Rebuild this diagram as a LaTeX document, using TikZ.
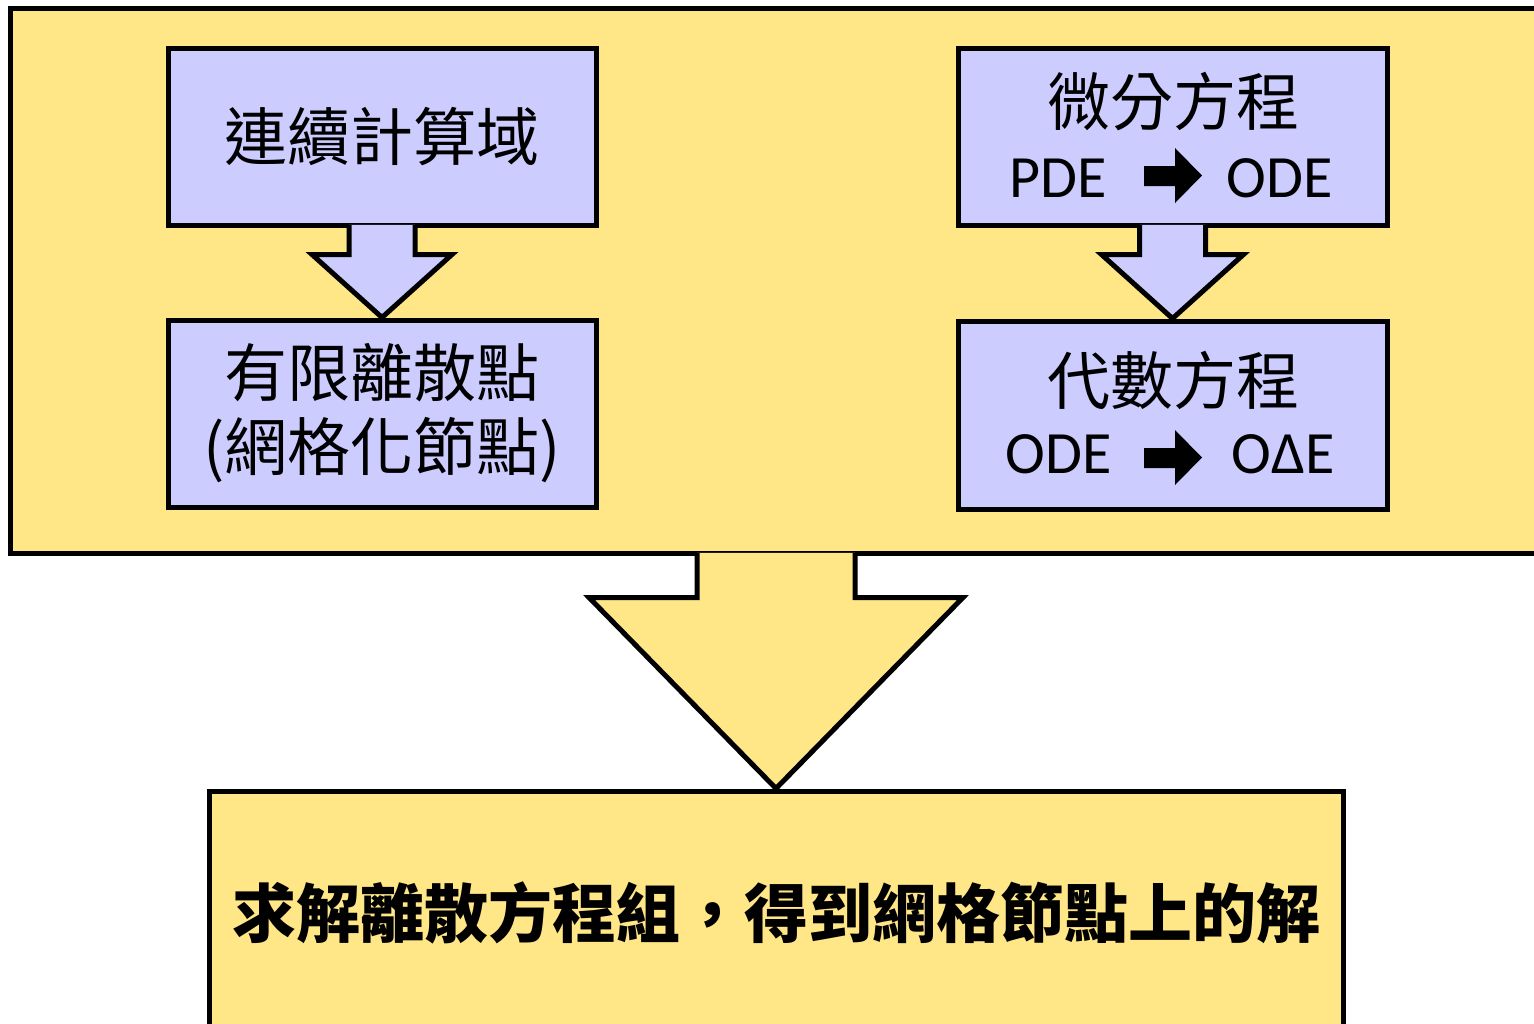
\documentclass[tikz,border=0pt]{standalone}
\usepackage{fontspec}
\setmainfont{Carlito}
\newfontfamily\cjk{Noto Sans CJK TC}
\usetikzlibrary{calc}
\definecolor{panelyellow}{RGB}{255,230,135}
\definecolor{boxlav}{RGB}{204,204,255}
\begin{document}
\begin{tikzpicture}[x=1pt,y=-1pt,line width=5pt,line join=miter,
  panelbox/.style={draw=black,fill=panelyellow,inner sep=0pt},
  lavbox/.style={draw=black,fill=boxlav,inner sep=0pt,align=center,
    font=\cjk\fontsize{63}{74}\selectfont},
  cjktext/.style={inner sep=0pt,font=\cjk\fontsize{63}{74}\selectfont},
  latintext/.style={inner sep=0pt,anchor=base west,font=\fontsize{60}{70}\selectfont},
  restext/.style={inner sep=0pt,font=\cjk\bfseries\fontsize{64}{76}\selectfont},
]
\useasboundingbox (0,0) rectangle (1534,1023);
\clip (0,0) rectangle (1534,1023);

% panel
\node[panelbox,minimum width=1550pt,minimum height=545pt] (panel) at (785,280.5) {};

% boxes
\node[lavbox,minimum width=428pt,minimum height=177pt] (a) at (382,136.5) {連續計算域};
\node[lavbox,minimum width=428pt,minimum height=187pt] (b) at (382,413.5) {有限離散點\\(網格化節點)};
\node[lavbox,minimum width=429pt,minimum height=177pt] (c) at (1172.5,136.5) {};
\node[lavbox,minimum width=429pt,minimum height=188pt] (d) at (1172.5,415) {};
\node[panelbox,minimum width=1134pt,minimum height=244pt] (res) at (776,913) {};

% texts in right boxes
\node[cjktext] (c1) at (1173,102) {微分方程};
\node[latintext] (c2) at (1007,197) {PDE};
\node[latintext] (c3) at (1224,197) {ODE};
\node[cjktext] (d1) at (1173,380) {代數方程};
\node[latintext] (d2) at (1003,473) {ODE};
\node[latintext] (d3) at (1229,473) {OΔE};
\node[restext] (r1) at (776,913) {求解離散方程組，得到網格節點上的解};

% inline black arrows
\fill (1144,166) -- (1175,166) -- (1175,148) -- (1202,175.5) -- (1175,203) -- (1175,186) -- (1144,186) -- cycle;
\fill (1144,448) -- (1175,448) -- (1175,430) -- (1202,457.5) -- (1175,485) -- (1175,468) -- (1144,468) -- cycle;

% block arrow a -> b
\fill[boxlav] ($(a.south)+(-33,-2.6)$) -- ($(a.south)+(-33,27)$) -- ($(a.south)+(-70,27)$) -- (b.north)
  -- ($(a.south)+(70,27)$) -- ($(a.south)+(33,27)$) -- ($(a.south)+(33,-2.6)$) -- cycle;
\draw ($(a.south)+(-33,-2.5)$) -- ($(a.south)+(-33,27)$) -- ($(a.south)+(-70,27)$) -- (b.north)
  -- ($(a.south)+(70,27)$) -- ($(a.south)+(33,27)$) -- ($(a.south)+(33,-2.5)$);

% block arrow c -> d
\fill[boxlav] ($(c.south)+(-33,-2.6)$) -- ($(c.south)+(-33,27)$) -- ($(c.south)+(-71,27)$) -- (d.north)
  -- ($(c.south)+(71,27)$) -- ($(c.south)+(33,27)$) -- ($(c.south)+(33,-2.6)$) -- cycle;
\draw ($(c.south)+(-33,-2.5)$) -- ($(c.south)+(-33,27)$) -- ($(c.south)+(-71,27)$) -- (d.north)
  -- ($(c.south)+(71,27)$) -- ($(c.south)+(33,27)$) -- ($(c.south)+(33,-2.5)$);

% big block arrow panel -> res
\coordinate (tl) at ($(res.north)+(-79,0)$);
\coordinate (tr) at ($(res.north)+(79,0)$);
\coordinate (sl) at (tl |- panel.south);
\coordinate (sr) at (tr |- panel.south);
\fill[panelyellow] ($(sl)+(0,-2.6)$) -- ($(sl)+(0,42)$) -- ($(sl)+(-108,42)$) -- (res.north)
  -- ($(sr)+(108,42)$) -- ($(sr)+(0,42)$) -- ($(sr)+(0,-2.6)$) -- cycle;
\draw ($(sl)+(0,-2.5)$) -- ($(sl)+(0,42)$) -- ($(sl)+(-108,42)$) -- (res.north)
  -- ($(sr)+(108,42)$) -- ($(sr)+(0,42)$) -- ($(sr)+(0,-2.5)$);
\end{tikzpicture}
\end{document}
